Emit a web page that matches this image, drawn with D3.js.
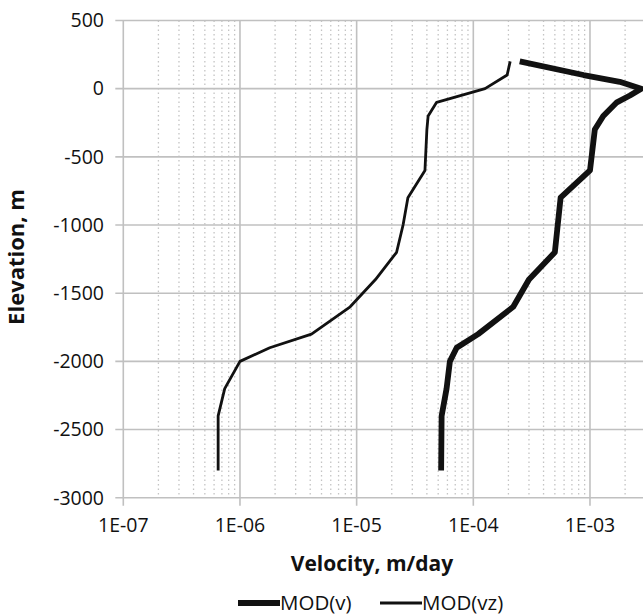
<!DOCTYPE html>
<html>
<head>
<meta charset="utf-8">
<script src="https://cdn.jsdelivr.net/npm/d3@7"></script>
<style>
    body { margin: 0; background: #fff; }
    text { font-family: "Open Sans", "DejaVu Sans", sans-serif; fill: #111; }
</style>
</head>
<body>
<div id="chart"></div>
<script>
// MOD(v) - thick line
const vElev = [200, 100, 50, 0, -50, -100, -200, -300, -600, -800, -1200, -1400, -1600, -1800, -1900, -2000, -2200, -2400, -2800];
const vVals = [2.5e-4, 8.8e-4, 1.8e-3, 2.75e-3, 2.2e-3, 1.7e-3, 1.3e-3, 1.1e-3, 1.0e-3, 5.6e-4, 5.0e-4, 3.0e-4, 2.2e-4, 1.1e-4, 7.2e-5, 6.3e-5, 5.9e-5, 5.35e-5, 5.3e-5];

// MOD(vz) - thin line
const vzElev = [200, 100, 0, -100, -200, -300, -600, -800, -1000, -1200, -1400, -1600, -1800, -1900, -2000, -2200, -2400, -2800];
const vzVals = [2.07e-4, 1.95e-4, 1.26e-4, 4.85e-5, 4.1e-5, 4.0e-5, 3.85e-5, 2.75e-5, 2.5e-5, 2.2e-5, 1.45e-5, 8.8e-6, 4.1e-6, 1.8e-6, 1.0e-6, 7.4e-7, 6.5e-7, 6.5e-7];

// the picture is cropped on the right, so the last decade has no visible label
const xTicks = [1e-7, 1e-6, 1e-5, 1e-4, 1e-3];
const xTickLabels = ["1E-07", "1E-06", "1E-05", "1E-04", "1E-03"];
const yTicks = [500, 0, -500, -1000, -1500, -2000, -2500, -3000];

const width = 643, height = 615;
const plotLeft = 123.3, plotTop = 20.5, plotBottom = 497.7, decade = 116.67;

const svg = d3.select("#chart").append("svg")
    .attr("width", width)
    .attr("height", height);

const x = d3.scaleLog().domain([1e-7, 1e-2]).range([plotLeft, plotLeft + 5 * decade]);
const y = d3.scaleLinear().domain([-3000, 500]).range([plotBottom, plotTop]);

// minor dotted grid (2..9 of every decade)
const minor = [];
for (let e = -7; e < -2; e++) {
    for (let m = 2; m <= 9; m++) minor.push(m * Math.pow(10, e));
}
svg.append("g").selectAll("line")
    .data(minor)
    .enter().append("line")
    .attr("x1", d => x(d)).attr("x2", d => x(d))
    .attr("y1", plotTop).attr("y2", plotBottom)
    .attr("stroke", "#c4c4c4")
    .attr("stroke-width", 1.3)
    .attr("stroke-dasharray", "1.5,3");

// major grid
svg.append("g").selectAll("line")
    .data(xTicks)
    .enter().append("line")
    .attr("x1", d => x(d)).attr("x2", d => x(d))
    .attr("y1", plotTop).attr("y2", plotBottom + 8)
    .attr("stroke", "#c0c0c0")
    .attr("stroke-width", 1.6);

svg.append("g").selectAll("line")
    .data(yTicks)
    .enter().append("line")
    .attr("x1", plotLeft - 8).attr("x2", width)
    .attr("y1", d => y(d)).attr("y2", d => y(d))
    .attr("stroke", "#c0c0c0")
    .attr("stroke-width", 1.6);

// tick labels
svg.append("g").selectAll("text")
    .data(yTicks)
    .enter().append("text")
    .attr("x", 104)
    .attr("y", d => y(d))
    .attr("dy", "0.35em")
    .attr("text-anchor", "end")
    .style("font-size", "19.5px")
    .text(d => d);

svg.append("g").selectAll("text")
    .data(xTicks)
    .enter().append("text")
    .attr("x", d => x(d))
    .attr("y", 532)
    .attr("text-anchor", "middle")
    .style("font-size", "19.5px")
    .text((d, i) => xTickLabels[i]);

// axis titles
svg.append("text")
    .attr("x", 372).attr("y", 571)
    .attr("text-anchor", "middle")
    .style("font-size", "21px")
    .style("font-weight", "bold")
    .text("Velocity, m/day");

svg.append("text")
    .attr("transform", "translate(24,257) rotate(-90)")
    .attr("text-anchor", "middle")
    .style("font-size", "22px")
    .style("font-weight", "bold")
    .text("Elevation, m");

// curves
const line = d3.line()
    .x(d => x(d[0]))
    .y(d => y(d[1]));

svg.append("path")
    .datum(vVals.map((v, i) => [v, vElev[i]]))
    .attr("d", line)
    .attr("fill", "none")
    .attr("stroke", "#111")
    .attr("stroke-width", 5.8)
    .attr("stroke-linejoin", "round");

svg.append("path")
    .datum(vzVals.map((v, i) => [v, vzElev[i]]))
    .attr("d", line)
    .attr("fill", "none")
    .attr("stroke", "#111")
    .attr("stroke-width", 2.8)
    .attr("stroke-linejoin", "round");

// legend
const legend = [
    { name: "MOD(v)", w: 5.8, x0: 238 },
    { name: "MOD(vz)", w: 2.8, x0: 380 }
];
const lg = svg.append("g").selectAll("g")
    .data(legend)
    .enter().append("g")
    .attr("transform", d => "translate(" + d.x0 + ",603)");
lg.append("line")
    .attr("x1", 0).attr("x2", 42)
    .attr("stroke", "#111")
    .attr("stroke-width", d => d.w);
lg.append("text")
    .attr("x", 42)
    .attr("y", 7)
    .style("font-size", "20.5px")
    .text(d => d.name);
</script>
</body>
</html>
